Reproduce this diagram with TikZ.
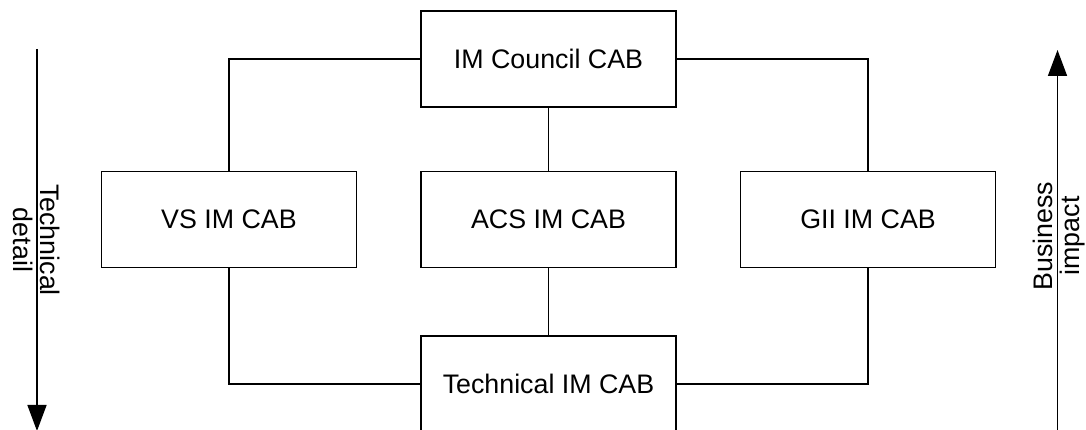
\documentclass[tikz,border=0pt]{standalone}
\usepackage{fontspec}
\setmainfont{Liberation Sans}
\usetikzlibrary{arrows.meta}
\begin{document}
\begin{tikzpicture}[x=1pt,y=1pt,
  cab/.style={draw, line width=1.5pt, fill=white, minimum width=255pt, minimum height=96pt,
    inner sep=0pt, font=\fontsize{26.8}{27}\selectfont},
  link/.style={line width=1.5pt},
  scale arrow/.style={line width=1.5pt, -{Triangle[length=26pt, width=19pt]}},
  axislabel/.style={align=center, inner sep=0pt, font=\fontsize{26.8}{27}\selectfont}
]
\useasboundingbox (0,0) rectangle (1086,430);

% boards
\node[cab] (top)  at (548.5,371)   {IM Council CAB};
\node[cab] (vs)   at (229,210.5)   {VS IM CAB};
\node[cab] (acs)  at (548.5,210.5) {ACS IM CAB};
\node[cab] (gii)  at (868,210.5)   {GII IM CAB};
\node[cab] (tech) at (548.5,46)    {Technical IM CAB};

% links between boards
\draw[link] (top.west) -| (vs.north);
\draw[link] (top.east) -| (gii.north);
\draw[link] (top) -- (acs);
\draw[link] (acs) -- (tech);
\draw[link] (vs.south) |- (tech.west);
\draw[link] (gii.south) |- (tech.east);

% side scales
\coordinate (ltop) at (37,381);
\coordinate (lbot) at (37,-1);
\draw[scale arrow] (ltop) -- (lbot);
\node[axislabel, rotate=-90] (ltext) at (36.5,190) {Technical\\detail};

\coordinate (rbot) at (1057.5,-2);
\coordinate (rtop) at (1057.5,380);
\draw[scale arrow] (rbot) -- (rtop);
\node[axislabel, rotate=90] (rtext) at (1059.5,194) {Business\\impact};
\end{tikzpicture}
\end{document}
